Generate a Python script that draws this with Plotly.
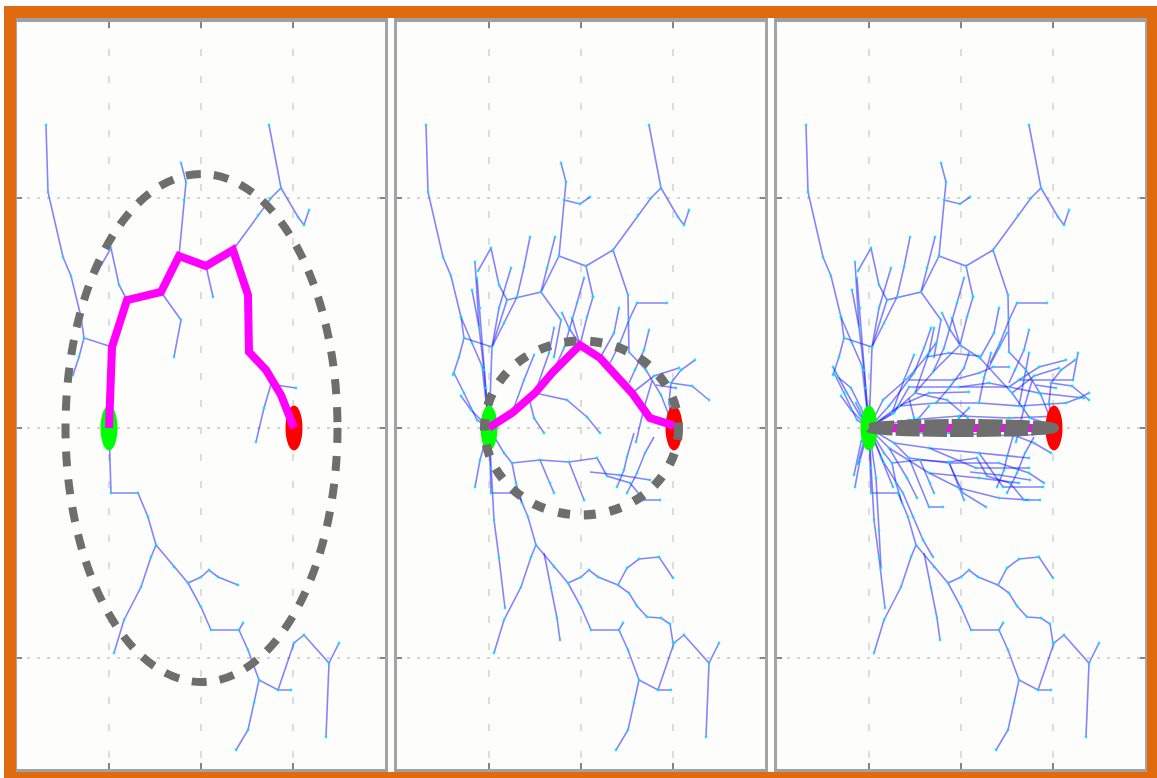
import plotly.graph_objects as go

# Informed RRT* style search: three snapshots of the same tree as it grows.
# World units: start at the origin, goal on the x axis.

START = (0, 0)
GOAL = (185, 0)

X_RANGE = [-92, 276]
Y_RANGE = [-341, 406]
X_TICKS = [0, 92, 184]
Y_TICKS = [-230, 0, 230]

# Best path found at each snapshot
PATH_1 = [(0, 0), (3, 81), (18, 128), (52, 136), (70, 172), (97, 162), (124, 178),
          (139, 133), (140, 76), (157, 58), (172, 33), (185, 0)]
PATH_2 = [(0, 0), (4, 3), (23, 15), (46, 35), (64, 56), (91, 83), (111, 70),
          (143, 35), (161, 10), (183, 3), (185, 0)]
PATH_3 = [(0, 0), (185, 0)]

# Informed sampling ellipses: centre x, centre y, semi-axis x, semi-axis y
ELLIPSE_1 = (92.5, 0, 136, 254)
ELLIPSE_2 = (92.5, 0, 97, 87)
ELLIPSE_3 = (92.5, 0, 93, 4.5)

# Tree branches present from the first snapshot on
BASE_TREE = [
    PATH_1,
    [(3, 81), (-25, 90), (-28, 111), (-38, 152), (-46, 171), (-61, 236), (-63, 303)],
    [(-25, 90), (-30, 71), (-36, 53)],
    [(18, 128), (10, 143), (2, 180), (-11, 157)],
    [(70, 172), (75, 228), (77, 246), (72, 265)],
    [(124, 178), (149, 213), (162, 230), (172, 240), (160, 303)],
    [(172, 240), (189, 211), (195, 203), (200, 218)],
    [(97, 162), (104, 131)],
    [(52, 136), (72, 108), (65, 71)],
    [(167, 43), (187, 40)],
    [(163, 47), (155, 20), (147, -14)],
    [(0, 0), (2, -65), (29, -65), (39, -89), (47, -117)],
    [(47, -117), (42, -129), (32, -159), (15, -192), (5, -225)],
    [(47, -117), (65, -139), (79, -155), (92, -179), (102, -202), (130, -202), (134, -195)],
    [(130, -202), (139, -222), (150, -252), (169, -262), (182, -262)],
    [(150, -252), (145, -275), (139, -302), (127, -322)],
    [(79, -155), (92, -149), (100, -142), (109, -149), (129, -157)],
    [(169, -262), (185, -215), (195, -207), (220, -235), (230, -215)],
    [(220, -235), (217, -309)],
]

# Branches added by the second snapshot
TREE_2_ADDED = [
    [(0, 0), (-7, 62), (-17, 85), (-28, 111)],
    [(0, 0), (-5, 58), (-10, 101), (-14, 166)],
    [(-10, 101), (-17, 138)],
    [(3, 81), (15, 105), (28, 131), (35, 161), (41, 191)],
    [(52, 136), (58, 160), (66, 191)],
    [(91, 83), (98, 111), (104, 131)],
    [(91, 83), (80, 100), (73, 115)],
    [(91, 83), (83, 110)],
    [(121, 65), (131, 85), (140, 108), (148, 125), (178, 125)],
    [(140, 45), (146, 58), (155, 78), (160, 98)],
    [(183, 3), (180, 25), (182, 45), (192, 58), (206, 68)],
    [(182, 45), (203, 42), (220, 28)],
    [(0, 0), (-12, 8), (-25, 35), (-35, 55)],
    [(0, 0), (-18, 18), (-28, 32)],
    [(75, 228), (91, 224), (101, 231)],
    [(23, 15), (35, 48), (45, 73)],
    [(46, 35), (60, 75), (65, 100)],
    [(46, 35), (78, 28), (98, 11), (111, -5)],
    [(40, 30), (45, 10), (55, -5)],
    [(0, 0), (-9, -32), (-14, -59)],
    [(0, 0), (2, -40), (5, -92), (10, -130), (16, -180)],
    [(0, 0), (15, -25), (23, -35), (51, -32), (80, -34), (108, -30)],
    [(23, -35), (27, -55), (33, -75)],
    [(51, -32), (61, -55), (65, -65)],
    [(80, -34), (95, -72)],
    [(108, -30), (118, -48), (141, -55), (155, -72), (171, -72)],
    [(145, -5), (138, -29), (135, -42), (128, -59)],
    [(165, -9), (156, -25), (148, -45), (138, -65)],
    [(101, -44), (130, -47), (161, -52)],
    [(55, -125), (62, -160), (68, -190), (71, -212)],
    [(129, -157), (138, -140), (150, -131), (170, -129), (184, -150)],
    [(129, -157), (140, -165), (148, -178), (158, -189), (172, -190), (181, -196), (184, -215)],
    [(0, 0), (-3, 40), (-9, 120), (-12, 150)],
    [(3, 81), (10, 120), (22, 160)],
    [(64, 56), (75, 80), (88, 125), (95, 150)],
    [(111, 70), (125, 95), (130, 120)],
    [(143, 35), (165, 52), (190, 60)],
]

# Branches added by the third snapshot
TREE_3_ADDED = [
    PATH_2,
    [(0, 0), (-10, 14), (-22, 35), (-36, 61)],
    [(0, 0), (-8, 20), (-18, 40), (-31, 51)],
    [(0, 0), (-6, 10), (-13, 25)],
    [(0, 0), (-8, -14), (-15, -47)],
    [(0, 0), (-5, -12), (-11, -36)],
    [(0, 0), (14, 28), (40, 51), (57, 71), (67, 85)],
    [(0, 0), (20, 22), (45, 55), (55, 80), (62, 100)],
    [(0, 0), (25, 15), (40, 41), (90, 41), (140, 41)],
    [(40, 48), (84, 48)],
    [(84, 48), (110, 55), (124, 61), (140, 61)],
    [(140, 41), (150, 48), (204, 48)],
    [(150, 48), (170, 61), (197, 68)],
    [(0, 0), (30, 22), (67, 25), (110, 25), (150, 22), (197, 25)],
    [(67, 25), (80, 40), (95, 60), (100, 75)],
    [(110, 25), (115, 50), (122, 75)],
    [(150, 22), (155, 50), (160, 75)],
    [(197, 25), (210, 30), (220, 35)],
    [(204, 48), (209, 75)],
    [(120, 61), (130, 80), (138, 95)],
    [(0, 0), (34, -5), (80, -5), (147, -8), (185, -5)],
    [(0, 0), (25, -15), (60, -20), (110, -25), (160, -30)],
    [(25, -15), (40, -30), (80, -35), (130, -35)],
    [(60, -20), (107, -40), (160, -40)],
    [(110, -25), (134, -59), (174, -59)],
    [(40, -30), (60, -79), (74, -79)],
    [(80, -35), (94, -65), (117, -79)],
    [(0, 0), (7, -50), (10, -102), (12, -140)],
    [(0, 0), (12, -30), (24, -59)],
    [(0, 0), (15, -35), (34, -65), (44, -89), (54, -112), (64, -129)],
    [(0, 0), (20, -20), (38, -50), (48, -70)],
    [(130, -35), (160, -45), (175, -55)],
    [(147, -8), (165, -15), (182, -25)],
    [(80, -5), (90, 10), (100, 20)],
    [(34, -5), (50, 10), (60, 22)],
    [(20, -20), (60, -45), (110, -50), (150, -55)],
    [(60, -45), (90, -60), (130, -70), (160, -72)],
    [(0, 0), (40, 8), (90, 12), (140, 10), (190, 12)],
    [(90, 41), (120, 45), (170, 35), (215, 30)],
    [(30, 22), (60, 35), (100, 36)],
    [(57, 71), (80, 75), (110, 72)],
]

TREES = [
    BASE_TREE,
    BASE_TREE + TREE_2_ADDED,
    BASE_TREE + TREE_2_ADDED + TREE_3_ADDED,
]
PATHS = [PATH_1, PATH_2, PATH_3]
ELLIPSES = [ELLIPSE_1, ELLIPSE_2, ELLIPSE_3]

# ---- layout geometry (pixels of the 1157 x 778 page) ----
W, H = 1157, 778
PANEL_PX = [(17, 385), (397, 765), (777, 1145)]
PLOT_TOP_PX, PLOT_BOTTOM_PX = 22, 769
MARK_RX, MARK_RY = 8.5, 22.5

EDGE_COLOR = "rgba(20,20,255,0.52)"
NODE_COLOR = "rgba(0,225,255,0.85)"
PATH_COLOR = "#ff00ff"
ELLIPSE_COLOR = "#6e6e6e"
FRAME_COLOR = "#e06b0f"
ELLIPSE_STYLE = [
    dict(width=8, dash="15px,13px"),
    dict(width=9, dash="12px,14px"),
    dict(width=9, dash="24px,3px"),
]

fig = go.Figure()
shapes = []

y_dom = [1 - PLOT_BOTTOM_PX / H, 1 - PLOT_TOP_PX / H]

for i, (tree, path, ell) in enumerate(zip(TREES, PATHS, ELLIPSES), start=1):
    xa, ya = f"x{i}", f"y{i}"
    # tree edges, one trace per branch so that crossings darken
    for branch in tree:
        fig.add_trace(go.Scatter(
            x=[p[0] for p in branch], y=[p[1] for p in branch],
            mode="lines", line=dict(color=EDGE_COLOR, width=1.6),
            xaxis=xa, yaxis=ya, hoverinfo="skip", showlegend=False))
    nodes = [p for branch in tree for p in branch[1:]]
    fig.add_trace(go.Scatter(
        x=[p[0] for p in nodes], y=[p[1] for p in nodes],
        mode="markers", marker=dict(color=NODE_COLOR, size=2.8, line=dict(width=0)),
        xaxis=xa, yaxis=ya, hoverinfo="skip", showlegend=False))

    # start and goal
    for (px, py), col in ((START, "#00ff00"), (GOAL, "#ff0000")):
        shapes.append(dict(type="circle", xref=xa, yref=ya,
                           x0=px - MARK_RX, x1=px + MARK_RX,
                           y0=py - MARK_RY, y1=py + MARK_RY,
                           fillcolor=col, line=dict(width=0), layer="above"))

    # best path
    d = "M " + " L ".join(f"{x},{y}" for x, y in path)
    shapes.append(dict(type="path", xref=xa, yref=ya, path=d,
                       line=dict(color=PATH_COLOR, width=8), layer="above"))

    # informed sampling ellipse
    cx, cy, a, b = ell
    shapes.append(dict(type="circle", xref=xa, yref=ya,
                       x0=cx - a, x1=cx + a, y0=cy - b, y1=cy + b,
                       line=dict(color=ELLIPSE_COLOR, **ELLIPSE_STYLE[i - 1]),
                       fillcolor="rgba(0,0,0,0)", layer="above"))

    x0p, x1p = PANEL_PX[i - 1]
    fig.layout[f"xaxis{i if i > 1 else ''}"] = dict(
        domain=[x0p / W, x1p / W], range=X_RANGE, anchor=ya,
        tickvals=X_TICKS, showticklabels=False,
        ticks="inside", ticklen=6, tickwidth=2, tickcolor="#858585",
        showgrid=True, gridcolor="#dcdcdc", gridwidth=1.5, griddash="7px,20px",
        zeroline=False, showline=True, linecolor="#a0a0a0", linewidth=6,
        mirror="ticks", fixedrange=True)
    fig.layout[f"yaxis{i if i > 1 else ''}"] = dict(
        domain=y_dom, range=Y_RANGE, anchor=xa,
        tickvals=Y_TICKS, showticklabels=False,
        ticks="inside", ticklen=5, tickwidth=2, tickcolor="#858585",
        showgrid=True, gridcolor="#d2d2d2", gridwidth=2, griddash="3px,7px",
        zeroline=False, showline=True, linecolor="#a4a4a4", linewidth=3,
        mirror="ticks", fixedrange=True)

# orange outer frame
def frame_rect(px0, py0, px1, py1):
    return dict(type="rect", xref="paper", yref="paper",
                x0=px0 / W, x1=px1 / W, y0=1 - py1 / H, y1=1 - py0 / H,
                fillcolor=FRAME_COLOR, line=dict(width=0), layer="above")

shapes += [
    frame_rect(4, 6, W, 18),
    frame_rect(4, 6, 16, H),
    frame_rect(1147, 6, W, H),
    frame_rect(4, 772, W, H),
]

fig.update_layout(
    width=W, height=H,
    margin=dict(l=0, r=0, t=0, b=0),
    paper_bgcolor="white", plot_bgcolor="#fdfdfb",
    shapes=shapes, showlegend=False,
)

fig.write_html("out.html", config={"displayModeBar": False})
